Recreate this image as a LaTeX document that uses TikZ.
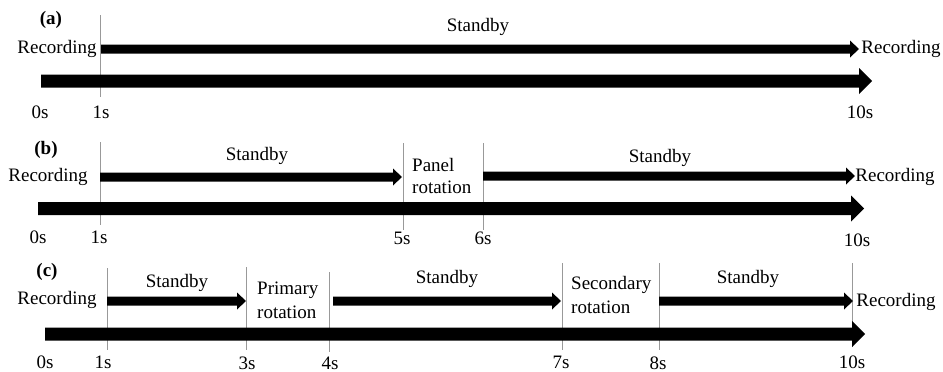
\documentclass[tikz,border=0pt]{standalone}
\usepackage{fontspec}
\setmainfont{Liberation Serif}
\newcommand{\uparr}[3]{\fill (#1,#3-4.5) -- ($(#2,#3-4.5)+(-9,0)$) -- ($(#2,#3-8.5)+(-9,0)$) -- (#2,#3) -- ($(#2,#3+8.5)+(-9,0)$) -- ($(#2,#3+4.5)+(-9,0)$) -- (#1,#3+4.5) -- cycle;}
\newcommand{\lowarr}[3]{\fill (#1,#3-6.5) -- ($(#2,#3-6.5)+(-13,0)$) -- ($(#2,#3-13)+(-13,0)$) -- (#2,#3) -- ($(#2,#3+13)+(-13,0)$) -- ($(#2,#3+6.5)+(-13,0)$) -- (#1,#3+6.5) -- cycle;}
\usetikzlibrary{calc}
\begin{document}
\begin{tikzpicture}[x=1pt,y=-1pt,
  every node/.style={inner sep=0pt, font=\fontsize{19}{21}\selectfont},
  tick/.style={draw=gray!80, line width=0.9pt},
  lbl/.style={font=\fontsize{19}{21}\selectfont\bfseries},
  ltext/.style={anchor=west, align=left}]
\useasboundingbox (0,0) rectangle (943,372);
% ---------- (a)
\draw[tick] (100,15) coordinate (a1t) -- (100,97) coordinate (a1b);
\uparr{101}{859}{49}
\lowarr{41}{872}{81}
\node[lbl] (alab) at (51,20) {(a)};
\node (arec1) at (57,49) {Recording};
\node (arec2) at (901,49) {Recording};
\node (asb) at (478,27) {Standby};
\node (a0) at (40,112) {0s};
\node (a1) at (101,112) {1s};
\node (a10) at (860,112) {10s};
% ---------- (b)
\draw[tick] (100,142) -- (100,225);
\draw[tick] (403,143) -- (403,230);
\draw[tick] (483,143) -- (483,230);
\uparr{100}{402}{177}
\uparr{483}{855}{176}
\lowarr{38}{864}{208.5}
\node[lbl] (blab) at (46,150) {(b)};
\node (brec1) at (48,177) {Recording};
\node (brec2) at (895,177) {Recording};
\node (bsb1) at (257,156) {Standby};
\node (bsb2) at (660,158) {Standby};
\node[ltext] (bpan) at (412,165) {Panel};
\node[ltext] (brot) at (412,187) {rotation};
\node (b0) at (38,237) {0s};
\node (b1) at (99,237) {1s};
\node (b5) at (402,238) {5s};
\node (b6) at (483,238) {6s};
\node (b10) at (857,240) {10s};
% ---------- (c)
\draw[tick] (107,268) -- (107,350);
\draw[tick] (246,267) -- (246,350);
\draw[tick] (329,272) -- (329,352);
\draw[tick] (562,263) -- (562,350);
\draw[tick] (659,263) -- (659,350);
\draw[tick] (852,263) -- (852,347);
\uparr{107}{246}{301}
\uparr{333}{561}{301}
\uparr{659}{853}{301}
\lowarr{45}{865}{334}
\node[lbl] (clab) at (47,272) {(c)};
\node (crec1) at (57,300) {Recording};
\node (crec2) at (896,302) {Recording};
\node (csb1) at (177,283) {Standby};
\node (csb2) at (447,279) {Standby};
\node (csb3) at (748,279) {Standby};
\node[ltext] (cpri) at (257,290) {Primary};
\node[ltext] (crot1) at (257,312) {rotation};
\node[ltext] (csec) at (571,285) {Secondary};
\node[ltext] (crot2) at (571,307) {rotation};
\node (c0) at (45,362) {0s};
\node (c1) at (103,362) {1s};
\node (c3) at (247,363) {3s};
\node (c4) at (330,363) {4s};
\node (c7) at (561,362) {7s};
\node (c8) at (658,363) {8s};
\node (c10) at (852,362) {10s};
\end{tikzpicture}
\end{document}
